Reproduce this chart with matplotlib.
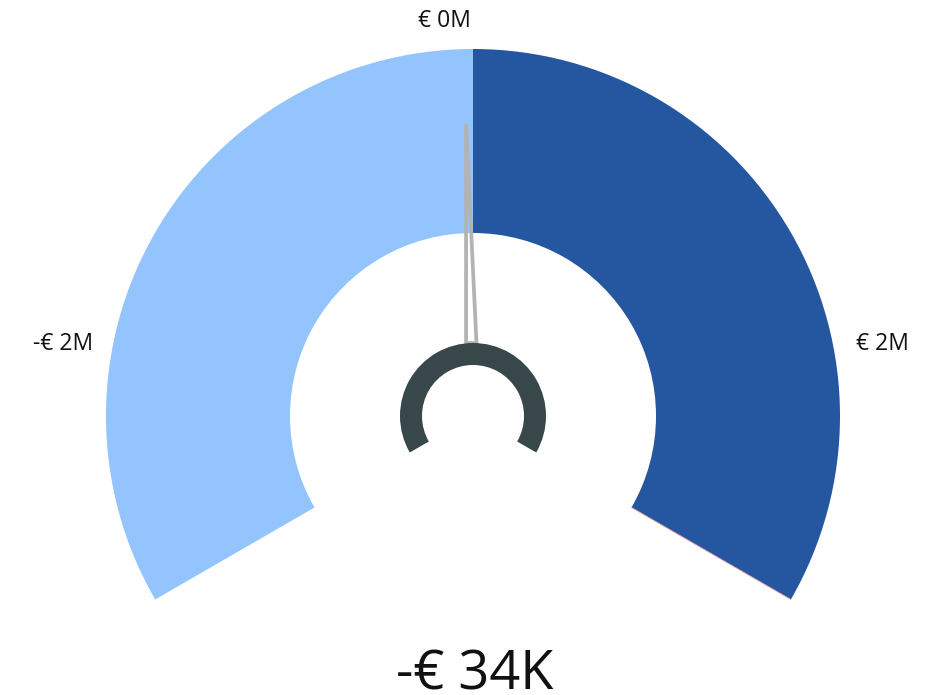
import matplotlib.pyplot as plt
import numpy as np
from matplotlib.patches import Wedge, Polygon

# gauge data (values in millions of euro)
gauge_min = -3.0
gauge_max = 3.0
band_edges = [-3.0, 0.0, 3.0]
band_colors = ['#94c4fd', '#2457a0']
tick_values = [-2.0, 0.0, 2.0]
tick_labels = ['-€ 2M', '€ 0M', '€ 2M']
value = -0.034
value_label = '-€ 34K'

plt.rcParams['font.family'] = ['Open Sans', 'DejaVu Sans']

W, H = 934, 695
fig = plt.figure(figsize=(W / 100, H / 100), dpi=100)
ax = fig.add_axes([0, 0, 1, 1])
ax.set_xlim(0, W)
ax.set_ylim(0, H)
ax.axis('off')

cx, cy = 473, H - 416
r_out, r_in = 367, 183
start_ang, end_ang = 210, -30


def to_angle(v):
    return start_ang + (v - gauge_min) / (gauge_max - gauge_min) * (end_ang - start_ang)


# coloured bands
for i, col in enumerate(band_colors):
    a1 = to_angle(band_edges[i + 1])
    a2 = to_angle(band_edges[i])
    ax.add_patch(Wedge((cx, cy), r_out, a1, a2, width=r_out - r_in,
                       facecolor=col, edgecolor='none', zorder=1))

# thin reddish edge at the end of the dark band
a_end = np.radians(to_angle(gauge_max))
ax.plot([cx + r_in * np.cos(a_end), cx + r_out * np.cos(a_end)],
        [cy + r_in * np.sin(a_end), cy + r_out * np.sin(a_end)],
        color='#f4a0a0', lw=0.6, zorder=2)

# needle (outline only)
a = np.radians(to_angle(value))
tip_r, base_r, half_w = 292, 73, 5.2
ux, uy = np.cos(a), np.sin(a)
px, py = -uy, ux
pts = [(cx + tip_r * ux, cy + tip_r * uy),
       (cx + base_r * ux + half_w * px, cy + base_r * uy + half_w * py),
       (cx + base_r * ux - half_w * px, cy + base_r * uy - half_w * py)]
ax.add_patch(Polygon(pts, closed=True, facecolor='none', edgecolor='#b3b3b3',
                     lw=2.7, joinstyle='miter', zorder=3))

# centre ring
ax.add_patch(Wedge((cx, cy), 73, end_ang, start_ang, width=22,
                   facecolor='#37474a', edgecolor='none', zorder=4))

# tick labels
for v, lab in zip(tick_values, tick_labels):
    ang = np.radians(to_angle(v))
    if v == 0:
        x, y = cx - 29, H - 21
    else:
        x, y = cx + 416 * np.cos(ang), cy + 423 * np.sin(ang) - 1
    ax.text(x, y, lab, fontsize=16.5, ha='center', va='center', color='#111111')

# value label
ax.text(cx + 2, H - 669, value_label, fontsize=39, ha='center', va='center_baseline',
        color='#111111')

plt.savefig('out.png', dpi=100)
